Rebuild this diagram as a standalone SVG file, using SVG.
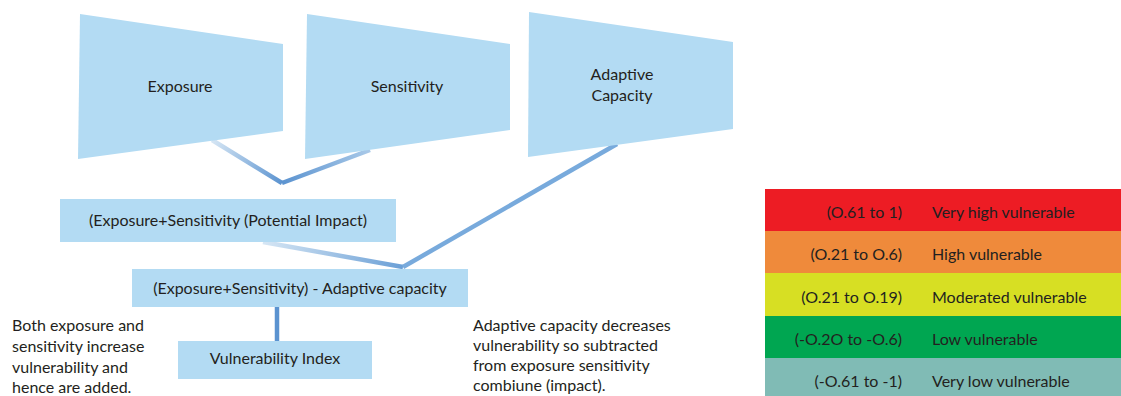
<svg xmlns="http://www.w3.org/2000/svg" width="1121" height="396" viewBox="0 0 1121 396">
<style>
.shape{fill:#B3DBF3}
.t{font-family:Lato,"Noto Sans",sans-serif;font-size:16px;fill:#231F20}
.tm{text-anchor:middle}
.te{text-anchor:end}
.c{fill:none;stroke-width:4.5;stroke-linecap:butt}
</style>
<defs>
<linearGradient id="g1" gradientUnits="userSpaceOnUse" x1="212" y1="140" x2="282" y2="183"><stop offset="0" stop-color="#D6E6F4"/><stop offset="1" stop-color="#5B93D0"/></linearGradient>
<linearGradient id="g2" gradientUnits="userSpaceOnUse" x1="282" y1="183" x2="370" y2="150"><stop offset="0" stop-color="#5B93D0"/><stop offset="1" stop-color="#A9C9E8"/></linearGradient>
<linearGradient id="g3" gradientUnits="userSpaceOnUse" x1="263" y1="242" x2="403" y2="267"><stop offset="0" stop-color="#D6E6F4"/><stop offset="1" stop-color="#6A9FD6"/></linearGradient>
</defs>
<g id="connectors">
<line class="c" x1="212" y1="140" x2="282" y2="183" stroke="url(#g1)"/>
<line class="c" x1="282" y1="183" x2="370" y2="150" stroke="url(#g2)"/>
<line class="c" x1="263" y1="242" x2="403" y2="267" stroke="url(#g3)"/>
<line class="c" x1="403" y1="267" x2="617" y2="144" stroke="#78AADC"/>
<line class="c" x1="277" y1="307" x2="277" y2="341" stroke="#5B93D0" stroke-width="5"/>
</g>
<g id="exposure">
<polygon class="shape" points="80,14 283,44 283,131 78,159"/>
<text class="t tm" x="180" y="92">Exposure</text>
</g>
<g id="sensitivity">
<polygon class="shape" points="307,14 510,44 510,130 305,159"/>
<text class="t tm" x="407" y="92">Sensitivity</text>
</g>
<g id="adaptive">
<polygon class="shape" points="529,12 733,42 733,129 528,157"/>
<text class="t tm" x="622" y="80">Adaptive</text>
<text class="t tm" x="622" y="101">Capacity</text>
</g>
<g id="impact">
<rect class="shape" x="60" y="199" width="336" height="43"/>
<text class="t tm" x="228" y="226">(Exposure+Sensitivity (Potential Impact)</text>
</g>
<g id="combined">
<rect class="shape" x="132" y="269" width="336" height="38"/>
<text class="t tm" x="300" y="294">(Exposure+Sensitivity) - Adaptive capacity</text>
</g>
<g id="index">
<rect class="shape" x="178" y="341" width="194" height="38"/>
<text class="t tm" x="275" y="364">Vulnerability Index</text>
</g>
<g id="note-left">
<text class="t" x="12" y="331">Both exposure and</text>
<text class="t" x="12" y="352">sensitivity increase</text>
<text class="t" x="12" y="373">vulnerability and</text>
<text class="t" x="12" y="393">hence are added.</text>
</g>
<g id="note-right">
<text class="t" x="473" y="331">Adaptive capacity decreases</text>
<text class="t" x="473" y="351">vulnerability so subtracted</text>
<text class="t" x="473" y="371">from exposure sensitivity</text>
<text class="t" x="473" y="391">combiune (impact).</text>
</g>
<g id="legend">
<rect x="765" y="189" width="356" height="42" fill="#ED1C24"/>
<rect x="765" y="231" width="356" height="42" fill="#EF8A3B"/>
<rect x="765" y="273" width="356" height="43" fill="#D7DF23"/>
<rect x="765" y="316" width="356" height="42" fill="#00A651"/>
<rect x="765" y="358" width="356" height="38" fill="#80BBB5"/>
<text class="t te" x="902" y="218">(O.61 to 1)</text>
<text class="t" x="932" y="218">Very high vulnerable</text>
<text class="t te" x="902" y="260">(O.21 to O.6)</text>
<text class="t" x="932" y="260">High vulnerable</text>
<text class="t te" x="902" y="303">(O.21 to O.19)</text>
<text class="t" x="932" y="303">Moderated vulnerable</text>
<text class="t te" x="902" y="345">(-O.2O to -O.6)</text>
<text class="t" x="932" y="345">Low vulnerable</text>
<text class="t te" x="902" y="387">(-O.61 to -1)</text>
<text class="t" x="932" y="387">Very low vulnerable</text>
</g>
</svg>
